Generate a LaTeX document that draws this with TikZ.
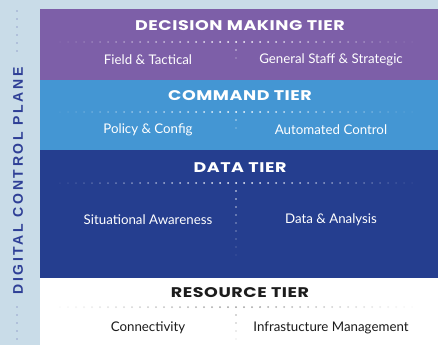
\documentclass[tikz,border=0pt]{standalone}
\usepackage{fontspec}
\setmainfont{Lato}
\newfontfamily\tierfont[FakeStretch=1.25,LetterSpace=4]{Poppins}
\newfontfamily\planefont[LetterSpace=19]{Liberation Sans}
\definecolor{planebg}{HTML}{C9DCE8}
\definecolor{decisionc}{HTML}{7D5FA8}
\definecolor{commandc}{HTML}{4496D3}
\definecolor{datac}{HTML}{253E8F}
\definecolor{planetext}{HTML}{2E3F96}
\definecolor{inktext}{HTML}{1C1C1C}
\definecolor{dotgrey}{HTML}{9A9A9A}
\tikzset{
  tiertitle/.style={font=\tierfont\bfseries\fontsize{14}{15}\selectfont, text=white, inner sep=0pt},
  tieritem/.style={font=\fontsize{13.3}{15}\selectfont, text=white, inner sep=0pt},
}
% a fading row of dots centred on the split line
\newcommand{\dotrow}[2]{%
  \foreach \k in {-22,...,22}{%
    \pgfmathsetmacro{\op}{max(0.05,1-abs(\k)/23)}%
    \fill[#2, opacity=\op] (236+8*\k,#1) circle (1pt);
  }}
% a fading column of dots below the row
\newcommand{\dotcol}[3]{%
  \foreach \k in {1,...,#2}{%
    \pgfmathsetmacro{\op}{max(0.1,1-\k/(#2+1))}%
    \fill[#3, opacity=\op] (236,#1+8*\k) circle (0.9pt);
  }}
\begin{document}
\begin{tikzpicture}[x=1pt,y=-1pt]
\useasboundingbox (0,0) rectangle (438,345);
% backdrop and tier bands
\fill[planebg] (0,0) rectangle (438,345);
\fill[white] (40,278) rectangle (438,345);
\fill[decisionc] (40,9) rectangle (438,80);
\fill[commandc] (40,80) rectangle (438,150);
\fill[datac] (40,150) rectangle (438,278);

% side label of the plane
\node[rotate=90, text=planetext, inner sep=0pt, font=\planefont\bfseries\fontsize{14}{14}\selectfont] (plane) at (18,181) {DIGITAL CONTROL PLANE};
\foreach \k in {0,...,5}{\fill[planetext!60, opacity=0.7] (17,11+8*\k) circle (0.9pt);}
\foreach \k in {0,...,4}{\fill[planetext!60, opacity=0.7] (17,307+8*\k) circle (0.9pt);}

% decision making tier
\node[tiertitle] (dmt) at (240,26) {DECISION MAKING TIER};
\dotrow{42}{white}
\dotcol{42}{2}{white}
\node[tieritem] (field) at (148,60) {Field \& Tactical};
\node[tieritem] (general) at (331,60) {General Staff \& Strategic};

% command tier
\node[tiertitle] (cmt) at (240,96) {COMMAND TIER};
\dotrow{112}{white}
\dotcol{112}{2}{white}
\node[tieritem] (policy) at (148,130) {Policy \& Config};
\node[tieritem] (auto) at (331,130) {Automated Control};

% data tier
\node[tiertitle] (dt) at (240,168) {DATA TIER};
\dotrow{183}{white}
\dotcol{183}{9}{white}
\node[tieritem] (sa) at (148,220) {Situational Awareness};
\node[tieritem] (da) at (331,220) {Data \& Analysis};

% resource tier
\node[tiertitle, text=inktext] (rt) at (240,292.5) {RESOURCE TIER};
\dotrow{307}{dotgrey}
\dotcol{307}{4}{dotgrey}
\node[tieritem, text=inktext] (conn) at (148,328) {Connectivity};
\node[tieritem, text=inktext] (infra) at (331,328) {Infrastucture Management};
\end{tikzpicture}
\end{document}
